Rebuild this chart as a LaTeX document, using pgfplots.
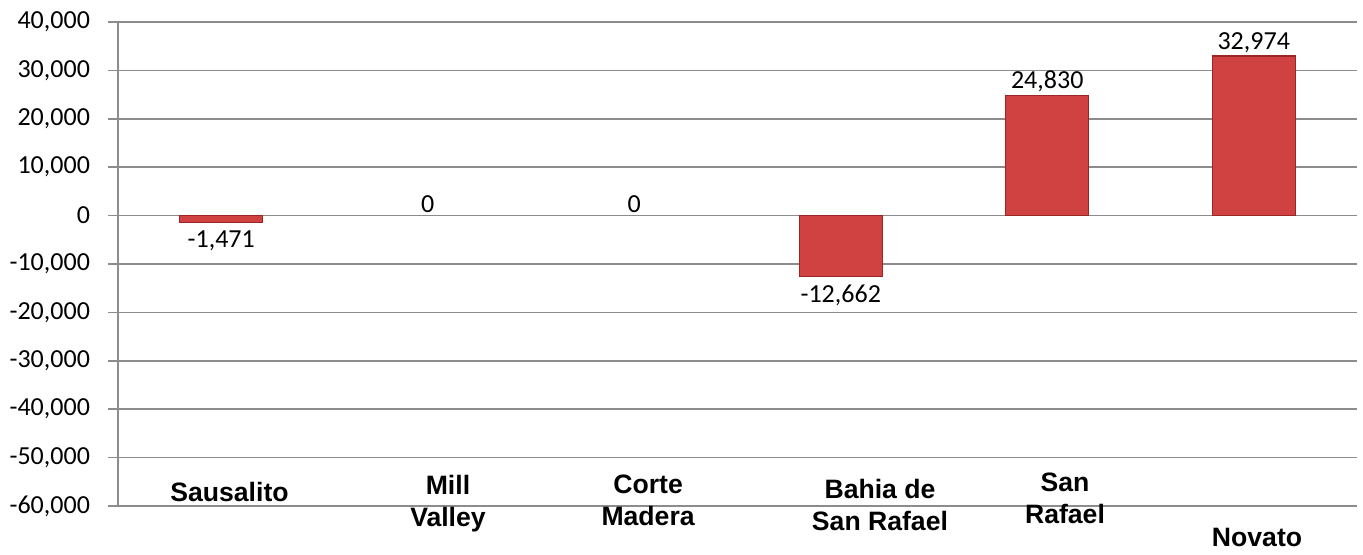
\documentclass[border=0pt]{standalone}
\usepackage{pgfplots}
\pgfplotsset{compat=1.18}
\usepackage{fontspec}
\setmainfont{Carlito}
\newfontfamily\catfont{Liberation Sans}
\definecolor{barred}{HTML}{D04242}
\definecolor{baredge}{HTML}{9A2626}
\definecolor{gridgray}{HTML}{8C8C8C}
\begin{document}
\begin{tikzpicture}
\useasboundingbox (0,0) rectangle (681.5pt,277pt);
\begin{axis}[
  at={(59pt,24pt)}, anchor=south west,
  width=619.5pt, height=242pt, scale only axis,
  xmin=-0.5, xmax=5.5, ymin=-60000, ymax=40000,
  clip=false,
  scaled y ticks=false,
  axis x line=none,
  axis y line*=left,
  y axis line style={-, draw=gridgray, line width=0.75pt},
  ytick={-60000,-50000,-40000,-30000,-20000,-10000,0,10000,20000,30000,40000},
  yticklabels={{-60,000},{-50,000},{-40,000},{-30,000},{-20,000},{-10,000},{0},{10,000},{20,000},{30,000},{40,000}},
  yticklabel style={font=\fontsize{13}{15}\selectfont, text=black, xshift=-5.5pt},
  tick align=outside, major tick length=5pt,
  ytick style={draw=gridgray, line width=0.75pt},
  ymajorgrids, grid style={draw=gridgray, line width=0.75pt},
  ybar, bar width=41.5pt, bar shift=0pt,
  nodes near coords, point meta=explicit symbolic,
  every node near coord/.append style={font=\fontsize{13}{15}\selectfont, text=black, inner sep=1.5pt},
]
\addplot[fill=barred, draw=baredge, line width=0.6pt]
  coordinates {(4,24830) [{24,830}] (5,32974) [{32,974}]};
\addplot[fill=barred, draw=baredge, line width=0.6pt,
  every node near coord/.append style={anchor=north, yshift=-2pt}]
  coordinates {(0,-1471) [{-1,471}] (3,-12662) [{-12,662}]};
\addplot[draw=none, fill=none]
  coordinates {(1,0) [0] (2,0) [0]};
\begin{scope}[every node/.style={font=\catfont\bfseries\fontsize{13.3}{16}\selectfont, align=center, text=black}]
\node at (axis cs:0.04,-57100) {Sausalito};
\node at (axis cs:1.098,-59580) {Mill\\Valley};
\node at (axis cs:2.067,-58755) {Corte\\Madera};
\node at (axis cs:3.19,-59790) {Bahia de\\San Rafael};
\node at (axis cs:4.086,-58340) {San\\Rafael};
\node at (axis cs:5.016,-66400) {Novato};
\end{scope}
\end{axis}
\end{tikzpicture}
\end{document}
